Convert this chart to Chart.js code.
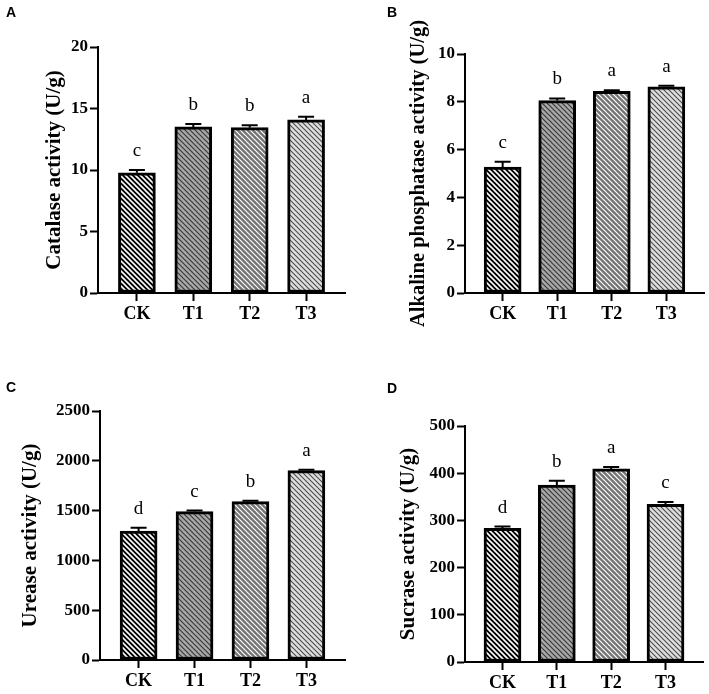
<!DOCTYPE html>
<html>
<head>
<meta charset="utf-8">
<script src="https://cdn.jsdelivr.net/npm/chart.js@4.4.1/dist/chart.umd.min.js"></script>
<style>
  body { margin: 0; background: #fff; width: 709px; height: 694px; position: relative; overflow: hidden; }
  canvas { position: absolute; }
  .tag { position: absolute; font: bold 14px "Liberation Sans", Arial, sans-serif; line-height: 14px; color: #000; }
</style>
</head>
<body>
<canvas id="catalaseStats" width="354" height="330" style="left:0;top:0"></canvas>
<canvas id="alpStats" width="355" height="340" style="left:354px;top:0"></canvas>
<canvas id="ureaseStats" width="354" height="364" style="left:0;top:330px"></canvas>
<canvas id="sucraseStats" width="355" height="364" style="left:354px;top:330px"></canvas>
<div class="tag" style="left:6px;top:5px">A</div>
<div class="tag" style="left:387px;top:5px">B</div>
<div class="tag" style="left:6px;top:380px">C</div>
<div class="tag" style="left:387px;top:381px">D</div>
<script>
const groups = ['CK', 'T1', 'T2', 'T3'];

const catalase = [9.78, 13.5, 13.44, 14.07];
const catalaseErr = [0.22, 0.24, 0.19, 0.26];
const catalaseSig = ['c', 'b', 'b', 'a'];
const catalaseTicks = [0, 5, 10, 15, 20];

const alp = [5.27, 8.05, 8.44, 8.63];
const alpErr = [0.22, 0.09, 0.04, 0.04];
const alpSig = ['c', 'b', 'a', 'a'];
const alpTicks = [0, 2, 4, 6, 8, 10];

const urease = [1295, 1489, 1590, 1901];
const ureaseErr = [33, 12, 10, 8];
const ureaseSig = ['d', 'c', 'b', 'a'];
const ureaseTicks = [0, 500, 1000, 1500, 2000, 2500];

const sucrase = [283, 375, 409, 334];
const sucraseErr = [4, 9, 4, 5];
const sucraseSig = ['d', 'b', 'a', 'c'];
const sucraseTicks = [0, 100, 200, 300, 400, 500];

const SERIF = '"Liberation Serif", "Times New Roman", serif';

// hatched fill for each group: background, stripe colour, stripe width
function hatch(bg, fg, w) {
  const s = 5;
  const c = document.createElement('canvas');
  c.width = s; c.height = s;
  const g = c.getContext('2d');
  g.fillStyle = bg;
  g.fillRect(0, 0, s, s);
  g.strokeStyle = fg;
  g.lineWidth = w;
  for (let k = -1; k <= 1; k++) {
    g.beginPath();
    g.moveTo(k * s - 1, -1);
    g.lineTo(k * s + s + 1, s + 1);
    g.stroke();
  }
  return g.createPattern(c, 'repeat');
}

const fills = [
  hatch('#000000', '#ffffff', 1.6),
  hatch('#a8a8a8', '#3a3a3a', 1.2),
  hatch('#747474', '#ffffff', 1.2),
  hatch('#dedede', '#4a4a4a', 1.1)
];

const decor = {
  id: 'decor',
  afterDatasetsDraw(chart, args, opts) {
    const ctx = chart.ctx;
    const x = chart.scales.x, y = chart.scales.y;
    const vals = chart.data.datasets[0].data;
    ctx.save();
    ctx.strokeStyle = '#000';
    ctx.lineWidth = 2;
    ctx.fillStyle = '#000';
    ctx.font = '19px ' + SERIF;
    ctx.textAlign = 'center';
    ctx.textBaseline = 'alphabetic';
    vals.forEach((d, i) => {
      const px = x.getPixelForValue(d.x);
      const y0 = y.getPixelForValue(d.y);
      const y1 = y.getPixelForValue(d.y + opts.err[i]);
      ctx.beginPath();
      ctx.moveTo(px, y0);
      ctx.lineTo(px, y1);
      ctx.moveTo(px - 8, y1);
      ctx.lineTo(px + 8, y1);
      ctx.stroke();
      ctx.fillText(opts.sig[i], px, y1 - 14);
    });
    ctx.restore();
  },
  afterDraw(chart, args, opts) {
    const ctx = chart.ctx;
    const a = chart.chartArea;
    ctx.save();
    ctx.translate(opts.titleX, (a.top + a.bottom) / 2);
    ctx.rotate(-Math.PI / 2);
    ctx.fillStyle = '#000';
    ctx.font = 'bold ' + opts.size + 'px ' + SERIF;
    ctx.textAlign = 'center';
    ctx.textBaseline = 'middle';
    ctx.fillText(opts.title, 0, 0);
    ctx.restore();
  }
};

function panelChart(id, values, err, sig, ticks, title, box) {
  const ctx = document.getElementById(id);
  new Chart(ctx, {
    type: 'bar',
    data: {
      datasets: [{
        data: values.map((v, i) => ({ x: i + 1, y: v })),
        backgroundColor: fills,
        borderColor: '#000',
        borderWidth: 3,
        borderSkipped: false,
        barThickness: 37
      }]
    },
    options: {
      responsive: false,
      animation: false,
      devicePixelRatio: 1,
      layout: { padding: { top: box.top, right: box.right, left: 0, bottom: 0 } },
      plugins: {
        legend: { display: false },
        tooltip: { enabled: false },
        decor: { err: err, sig: sig, title: title, titleX: box.titleX, size: box.ts || 21 }
      },
      scales: {
        x: {
          type: 'linear',
          min: 0.31,
          max: 4.69,
          offset: false,
          afterBuildTicks: s => { s.ticks = groups.map((g, i) => ({ value: i + 1 })); },
          afterFit: s => { s.height = box.xh; },
          ticks: {
            autoSkip: false,
            maxRotation: 0,
            padding: 3,
            color: '#000',
            font: { family: SERIF, size: 18, weight: 'bold' },
            callback: v => groups[v - 1]
          },
          grid: { offset: false, drawOnChartArea: false, tickLength: 8, tickWidth: 2, tickColor: '#000' },
          border: { color: '#000', width: 2 }
        },
        y: {
          min: ticks[0],
          max: ticks[ticks.length - 1],
          afterBuildTicks: s => { s.ticks = ticks.map(t => ({ value: t })); },
          afterFit: s => { s.width = box.yw; },
          ticks: {
            padding: 2,
            color: '#000',
            font: { family: SERIF, size: 17, weight: 'bold' },
            callback: v => String(v)
          },
          grid: { drawOnChartArea: false, tickLength: 8, tickWidth: 2, tickColor: '#000' },
          border: { color: '#000', width: 2 }
        }
      }
    },
    plugins: [decor]
  });
}

panelChart('catalaseStats', catalase, catalaseErr, catalaseSig, catalaseTicks,
  'Catalase activity (U/g)', { top: 47, right: 9, yw: 98, xh: 37, titleX: 55 });
panelChart('alpStats', alp, alpErr, alpSig, alpTicks,
  'Alkaline phosphatase activity (U/g)', { top: 54, right: 5, yw: 111, xh: 47, titleX: 65, ts: 20.5 });
panelChart('ureaseStats', urease, ureaseErr, ureaseSig, ureaseTicks,
  'Urease activity (U/g)', { top: 81, right: 9, yw: 100, xh: 34, titleX: 31 });
panelChart('sucraseStats', sucrase, sucraseErr, sucraseSig, sucraseTicks,
  'Sucrase activity (U/g)', { top: 96, right: 6, yw: 111, xh: 32, titleX: 55 });
</script>
</body>
</html>
